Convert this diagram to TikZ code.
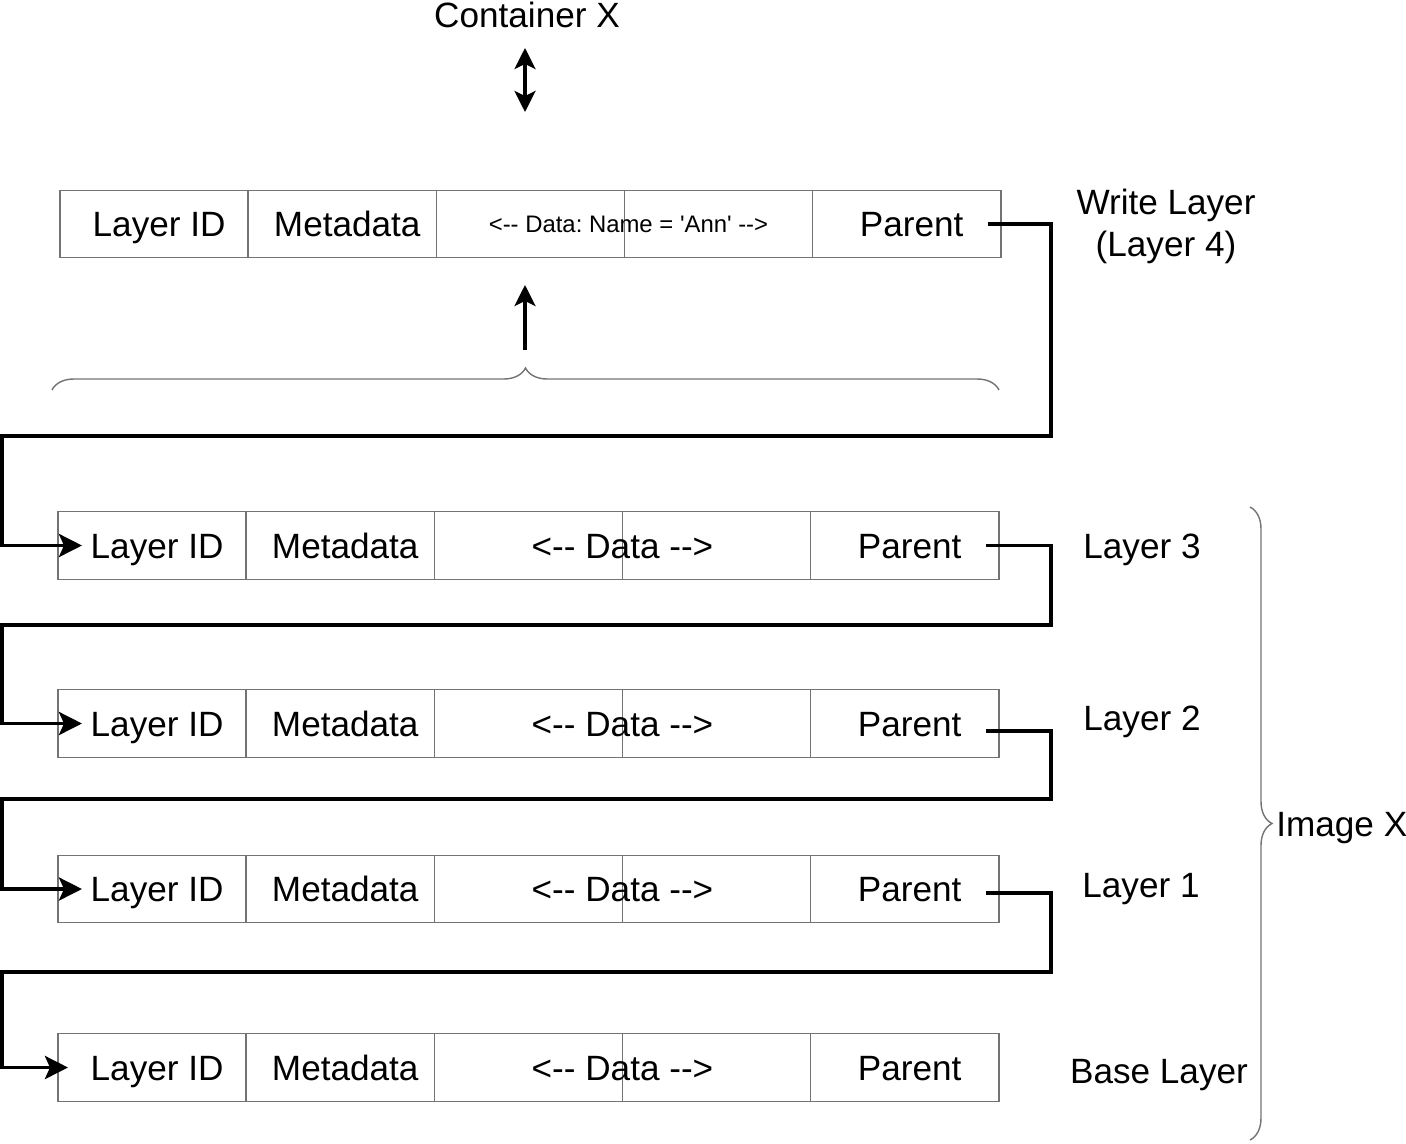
\documentclass[tikz,border=0pt]{standalone}
\usepackage{fontspec}
\setmainfont{Liberation Sans}
\usetikzlibrary{positioning,arrows.meta,decorations.pathreplacing}
\begin{document}
\begin{tikzpicture}[x=0.02cm, y=-0.02cm,
        font=\fontsize{20}{24}\selectfont,
        >={Stealth[length=0.42cm, width=0.42cm, inset=0.1cm]},
        cell/.style={draw=black!55, line width=0.8pt, minimum width=3.764cm, minimum height=1.35cm, inner sep=0pt, outer sep=0pt,
            text height=14.3pt, text depth=0pt, execute at begin node=\hspace*{0.2cm}},
        link/.style={line width=2.2pt, -{Stealth[length=0.46cm, width=0.46cm, inset=0.1cm]}},
        arr/.style={line width=1.8pt},
        brc/.style={draw=black!55, line width=0.8pt, decorate, decoration={brace, amplitude=0.44cm}}]
    \useasboundingbox (0,0) rectangle (1406,1143);

    % container on top of the write layer
    \node (cont) at (527,15) {Container X};
    \coordinate (c1) at (525,48);
    \coordinate (c2) at (525,112);
    \draw[arr, <->] (c1) -- (c2);

    % write layer
    \node[cell, anchor=west] (id4) at (60,224) {Layer ID};
    \node[cell, right=0pt of id4] (meta4) {Metadata};
    \node[cell, right=0pt of meta4] (da4) {};
    \node[cell, right=0pt of da4] (db4) {};
    \node[cell, right=0pt of db4] (par4) {Parent};
    \node[font=\fontsize{13.6}{16}\selectfont] (data4) at ([xshift=0.08cm]da4.east) {<-{}- Data:\ Name = \textquotesingle Ann\textquotesingle{} -{}->};
    \coordinate (o4) at ([xshift=-0.26cm]par4.east);
    \node[align=center] (w4) at (1166,226) {Write Layer\\(Layer 4)};

    \coordinate (bt) at (525,350);
    \coordinate (up) at (525,285);
    \draw[arr, ->] (bt) -- (up);
    \coordinate (bl) at (52,390);
    \coordinate (br) at (999,390);
    \draw[brc] (bl) -- (br);

    % image layers
    \foreach \n/\y/\s/\d in {3/545.5/0.48/0, 2/723.5/0.48/0.15, 1/889/0.48/0.08, 0/1067.5/0.2/0} {
        \node[cell, anchor=west] (id\n) at (58,\y) {Layer ID};
        \node[cell, right=0pt of id\n] (meta\n) {Metadata};
        \node[cell, right=0pt of meta\n] (da\n) {};
        \node[cell, right=0pt of da\n] (db\n) {};
        \node[cell, right=0pt of db\n] (par\n) {Parent};
        \node[text height=14.3pt, text depth=0pt] (data\n) at (da\n.east) {<-{}- Data -{}->};
        \coordinate (o\n) at ([xshift=-0.26cm, yshift=-\d cm]par\n.east);
        \coordinate (t\n) at ([xshift=\s cm]id\n.west);
    }
    \node (l3) at (1142,550) {Layer 3};
    \node (l2) at (1142,722) {Layer 2};
    \node (l1) at (1141,889) {Layer 1};
    \node (l0) at (1159,1075) {Base Layer};

    % parent links
    \draw[link] (o4) -| (1051,436) -- (2,436) |- (t3);
    \draw[link] (o3) -| (1051,625) -- (2,625) |- (t2);
    \draw[link] (o2) -| (1051,799) -- (2,799) |- (t1);
    \draw[link] (o1) -| (1051,972) -- (2,972) |- (t0);

    \coordinate (it) at (1250,507);
    \coordinate (ib) at (1250,1140);
    \draw[brc] (it) -- (ib);
    \node[anchor=west, inner sep=0pt] (img) at (1276,828) {Image X};
\end{tikzpicture}
\end{document}
